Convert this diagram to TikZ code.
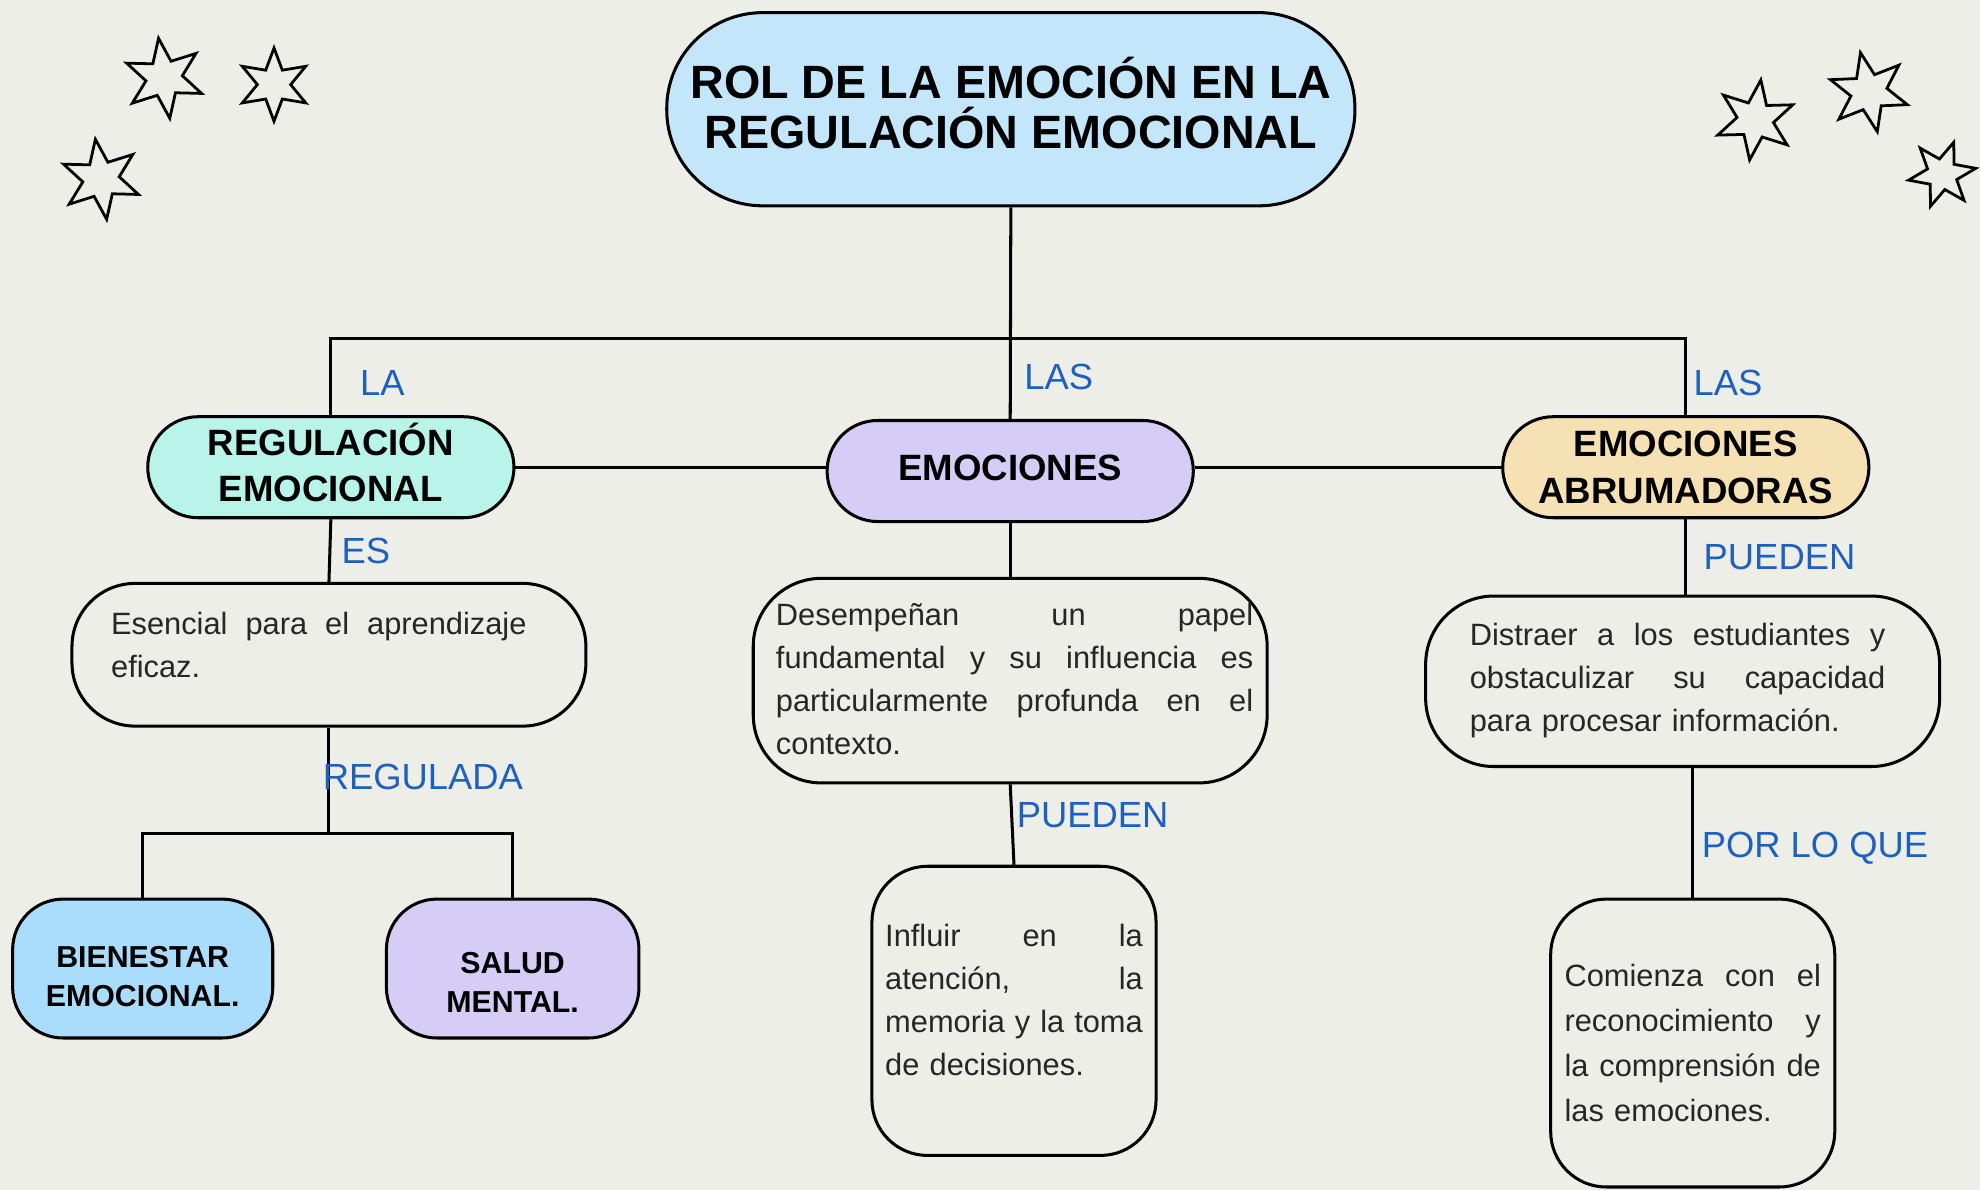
\documentclass[tikz,border=0pt]{standalone}
\usepackage{fontspec}
\setmainfont{Liberation Sans}
\usepackage{xcolor}
\usepackage{tikz}
\usetikzlibrary{shapes.geometric,positioning}

\definecolor{paper}{RGB}{238,238,232}
\definecolor{titleblue}{RGB}{196,230,251}
\definecolor{mint}{RGB}{184,245,232}
\definecolor{lilac}{RGB}{214,205,246}
\definecolor{peach}{RGB}{246,225,180}
\definecolor{skyblue}{RGB}{170,221,252}
\definecolor{linkblue}{RGB}{30,96,192}
\definecolor{ink}{RGB}{38,38,38}

% one justified line of a text box
\newcommand{\spreadline}[1]{\hbox to\hsize{\spaceskip=\fontdimen2\font plus 1fil\relax#1}\par}

\begin{document}
\begin{tikzpicture}[x=0.5pt, y=-0.5pt,
  box/.style={draw, line width=1.2pt, rounded corners=#1, inner sep=0pt},
  box/.default=20pt,
  heading/.style={font=\fontsize{14.5}{18.5}\selectfont\bfseries, align=center},
  small/.style={font=\fontsize{12}{15.5}\selectfont\bfseries, align=center},
  body/.style={font=\fontsize{12.2}{17}\selectfont, text=ink, inner sep=0pt},
  lbl/.style={font=\fontsize{14.4}{17}\selectfont, text=linkblue, inner sep=0pt},
  link/.style={line width=1.2pt},
  twinkle/.style={star, star points=6, star point ratio=2.2, draw, line width=1.1pt, inner sep=0pt}]

  \fill[paper] (0,0) rectangle (1568,942);
  \useasboundingbox (0,0) rectangle (1568,942);

  % title and the three main ideas
  \node[box=38pt, fill=titleblue, minimum width=272.5pt, minimum height=76.5pt,
        font=\fontsize{18.5}{20}\selectfont\bfseries, align=center] (title) at (800.5,86.5)
        {ROL DE LA EMOCIÓN EN LA\\REGULACIÓN EMOCIONAL\rule[-5pt]{0pt}{5pt}};
  \node[box, fill=mint, minimum width=145pt, minimum height=40pt, heading] (reg) at (262,370) {REGULACIÓN\\EMOCIONAL\rule[-4pt]{0pt}{4pt}};
  \node[box, fill=lilac, minimum width=145pt, minimum height=40pt, heading] (emo) at (800,373) {EMOCIONES\rule[-3pt]{0pt}{3pt}};
  \node[box, fill=peach, minimum width=145pt, minimum height=40pt, heading] (abr) at (1335,370) {EMOCIONES\\ABRUMADORAS};

  % text boxes
  \node[box=25pt, minimum width=203.5pt, minimum height=56.5pt, below=24.8pt of reg, xshift=-0.75pt] (esencial) {};
  \node[box=27pt, minimum width=203.5pt, minimum height=81pt, below=21.3pt of emo] (desemp) {};
  \node[box=22pt, minimum width=112.5pt, minimum height=114.5pt, below=31.8pt of desemp, xshift=1.5pt] (influir) {};
  \node[box=27pt, minimum width=203.5pt, minimum height=67.5pt, below=29.8pt of abr, xshift=-1.25pt] (distraer) {};
  \node[box=22pt, minimum width=112.5pt, minimum height=114pt, below=51.3pt of distraer, xshift=4pt] (comienza) {};

  \node[body, text width=164.5pt, xshift=-4pt, yshift=4pt] (esencialtxt) at (esencial)
    {\spreadline{Esencial para el aprendizaje}eficaz.};
  \node[body, text width=189pt, xshift=1.75pt, yshift=0.75pt] (desemptxt) at (desemp)
    {\spreadline{Desempeñan un papel}\spreadline{fundamental y su influencia es}\spreadline{particularmente profunda en el}contexto.};
  \node[body, text width=102pt, yshift=4.25pt] (influirtxt) at (influir)
    {\spreadline{Influir en la}\spreadline{atención, la}\spreadline{memoria y la toma}de decisiones.};
  \node[body, text width=164.5pt, xshift=-2pt, yshift=0.25pt] (distraertxt) at (distraer)
    {\spreadline{Distraer a los estudiantes y}\spreadline{obstaculizar su capacidad}para procesar información.};
  \node[body, text width=101.5pt, font=\fontsize{12.2}{17.8}\selectfont] (comienzatxt) at (comienza)
    {\spreadline{Comienza con el}\spreadline{reconocimiento y}\spreadline{la comprensión de}las emociones.};

  \node[box, fill=skyblue, minimum width=103pt, minimum height=55pt, small] (bien) at (113,767) {\rule{0pt}{14.6pt}BIENESTAR\\EMOCIONAL.};
  \node[box, fill=lilac, minimum width=100pt, minimum height=55pt, small] (salud) at (406,767) {\rule{0pt}{19.6pt}SALUD\\MENTAL.};

  % connectors
  \coordinate (bus) at (800,268);
  \coordinate (fork) at (260.5,660);
  \draw[link] (title.south) -- node[lbl, pos=.8, right=5pt] {LAS} (emo.north);
  \draw[link] (reg.north) |- node[lbl, pos=.21, right=11pt] {LA} (bus)
    -| node[lbl, pos=.79, right=2.5pt] {LAS} (abr.north);
  \draw[link] (reg.east) -- (reg.east -| emo.west);
  \draw[link] (abr.west -| emo.east) -- (abr.west);

  \draw[link] (reg.south) -- node[lbl, right=4pt] {ES} (esencial.north);
  \draw[link] (esencial.south) -- node[lbl, pos=.47, right=-3pt] {REGULADA} (fork);
  \draw[link] (bien.north) |- (fork) -| (salud.north);
  \draw[link] (emo.south) -- (desemp.north);
  \draw[link] (desemp.south) -- node[lbl, pos=.38, right=1.5pt] {PUEDEN} (influir.north);
  \draw[link] (abr.south) -- node[lbl, right=6.5pt] {PUEDEN} (abr.south |- distraer.north);
  \draw[link] (comienza.north |- distraer.south) -- node[lbl, pos=.62, right=3pt] {POR LO QUE} (comienza.north);

  % stars
  \foreach \sx/\sy/\sd/\sa [count=\i] in {130/62/32/8, 217/67/29/0, 80/142/32/8,
      1390/95/32/-8, 1480/73/32/12, 1538/138/27/-20}
    \node[twinkle, minimum size=\sd pt, rotate=\sa] (star\i) at (\sx,\sy) {};
\end{tikzpicture}
\end{document}
